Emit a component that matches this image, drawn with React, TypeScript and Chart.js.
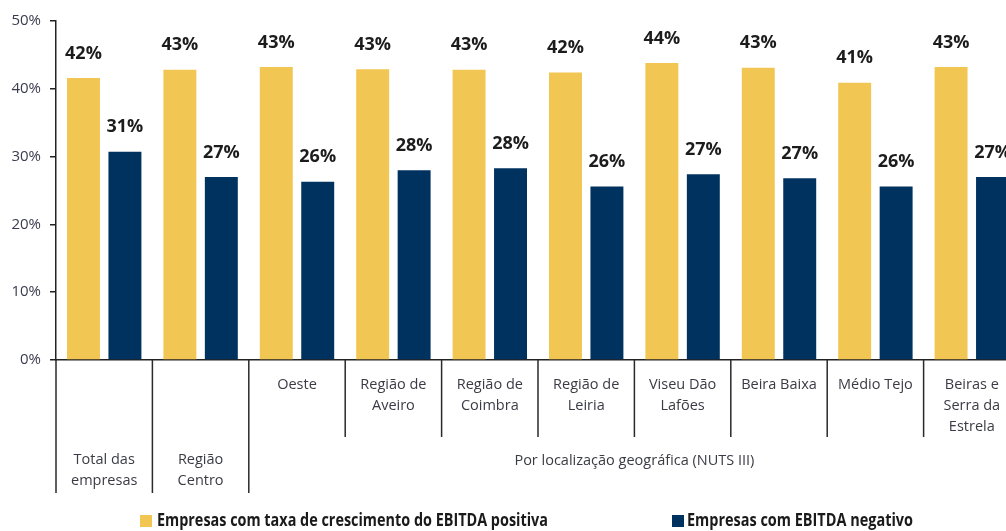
import React, { useEffect, useRef } from 'react';
import { Chart, registerables } from 'chart.js';

Chart.register(...registerables);

const categories: string[][] = [
  ['Total das', 'empresas'],
  ['Região', 'Centro'],
  ['Oeste'],
  ['Região de', 'Aveiro'],
  ['Região de', 'Coimbra'],
  ['Região de', 'Leiria'],
  ['Viseu Dão', 'Lafões'],
  ['Beira Baixa'],
  ['Médio Tejo'],
  ['Beiras e', 'Serra da', 'Estrela'],
];
const positiveGrowth = [41.6, 42.8, 43.2, 42.9, 42.8, 42.4, 43.8, 43.1, 40.9, 43.2];
const negativeEbitda = [30.7, 27.0, 26.3, 28.0, 28.3, 25.6, 27.4, 26.8, 25.6, 27.0];
const seriesNames = [
  'Empresas com taxa de crescimento do EBITDA positiva',
  'Empresas com EBITDA negativo',
];
const seriesColors = ['#F2C652', '#00325F'];
const groupLabel = 'Por localização geográfica (NUTS III)';
const yMin = 0;
const yMax = 50;
const yStep = 10;

const FONT = '"Open Sans", "Noto Sans", sans-serif';

const annotatePlugin = {
  id: 'annotate',
  afterDraw(chart: any) {
    const ctx: CanvasRenderingContext2D = chart.ctx;
    const xs = chart.scales.x;
    const area = chart.chartArea;
    const n = categories.length;
    const w = xs.getPixelForValue(1) - xs.getPixelForValue(0);
    const boundary = (i: number) => xs.getPixelForValue(0) - w / 2 + i * w;

    ctx.save();
    // separator lines
    ctx.strokeStyle = '#2a2a2a';
    ctx.lineWidth = 1.5;
    for (let i = 0; i <= n; i++) {
      const bx = boundary(i);
      const yEnd = i <= 2 ? 493 : 437;
      ctx.beginPath();
      ctx.moveTo(bx, area.bottom);
      ctx.lineTo(bx, yEnd);
      ctx.stroke();
    }
    // category labels
    ctx.fillStyle = '#3b3b45';
    ctx.font = `14.5px ${FONT}`;
    ctx.textAlign = 'center';
    ctx.textBaseline = 'middle';
    categories.forEach((lines, i) => {
      const cx = xs.getPixelForValue(i);
      const startY = i < 2 ? 460 : 385;
      lines.forEach((t, j) => ctx.fillText(t, cx, startY + j * 20.7));
    });
    // group label
    ctx.fillText(groupLabel, (boundary(2) + boundary(n)) / 2, 461);

    // data labels
    ctx.fillStyle = '#1c1c1c';
    ctx.font = `bold 18px ${FONT}`;
    chart.data.datasets.forEach((ds: any, di: number) => {
      const meta = chart.getDatasetMeta(di);
      meta.data.forEach((el: any, k: number) => {
        ctx.fillText(Math.round(ds.data[k]) + '%', el.x, el.y - 24.5);
      });
    });

    // legend
    const items = [
      { box: 140, text: 157, width: 391 },
      { box: 672, text: 687, width: 226 },
    ];
    ctx.font = `bold 17px ${FONT}`;
    ctx.textAlign = 'left';
    items.forEach((it, i) => {
      ctx.fillStyle = seriesColors[i];
      ctx.fillRect(it.box, 515, 12, 12);
      ctx.fillStyle = '#1a1a1a';
      ctx.fillText(seriesNames[i], it.text, 521.5, it.width);
    });
    ctx.restore();
  },
};

export default function App() {
  const ref = useRef<HTMLCanvasElement | null>(null);
  useEffect(() => {
    if (!ref.current) return;
    const chart = new Chart(ref.current, {
      type: 'bar',
      data: {
        labels: categories.map((c) => c.join(' ')),
        datasets: [
          {
            label: seriesNames[0],
            data: positiveGrowth,
            backgroundColor: seriesColors[0],
            categoryPercentage: 0.86,
            barPercentage: 0.795,
          },
          {
            label: seriesNames[1],
            data: negativeEbitda,
            backgroundColor: seriesColors[1],
            categoryPercentage: 0.86,
            barPercentage: 0.795,
          },
        ],
      },
      options: {
        responsive: false,
        animation: false,
        devicePixelRatio: 1,
        layout: { padding: { top: 21, left: 0, right: 0, bottom: 0 } },
        plugins: {
          legend: { display: false },
          tooltip: { enabled: false },
          title: { display: false },
        },
        scales: {
          x: {
            grid: { display: false },
            ticks: { display: false },
            border: { display: true, color: '#222', width: 1.5 },
            afterFit: (s: any) => {
              s.height = 171;
            },
          },
          y: {
            min: yMin,
            max: yMax,
            ticks: {
              stepSize: yStep,
              padding: 9,
              color: '#3b3b4f',
              font: { family: FONT, size: 15 },
              callback: (v: any) => v + '%',
            },
            grid: {
              drawOnChartArea: false,
              drawTicks: true,
              tickLength: 6,
              color: '#222',
              lineWidth: 1.5,
            },
            border: { display: true, color: '#222', width: 1.5 },
            afterFit: (s: any) => {
              s.width = 56;
            },
          },
        },
      },
      plugins: [annotatePlugin],
    });
    return () => chart.destroy();
  }, []);
  return (
    <div
      style={{
        position: 'fixed',
        top: 0,
        left: 0,
        width: 1006,
        height: 531,
        overflow: 'hidden',
        background: '#fff',
      }}
    >
      <canvas ref={ref} width={1020} height={531} style={{ display: 'block' }} />
    </div>
  );
}
